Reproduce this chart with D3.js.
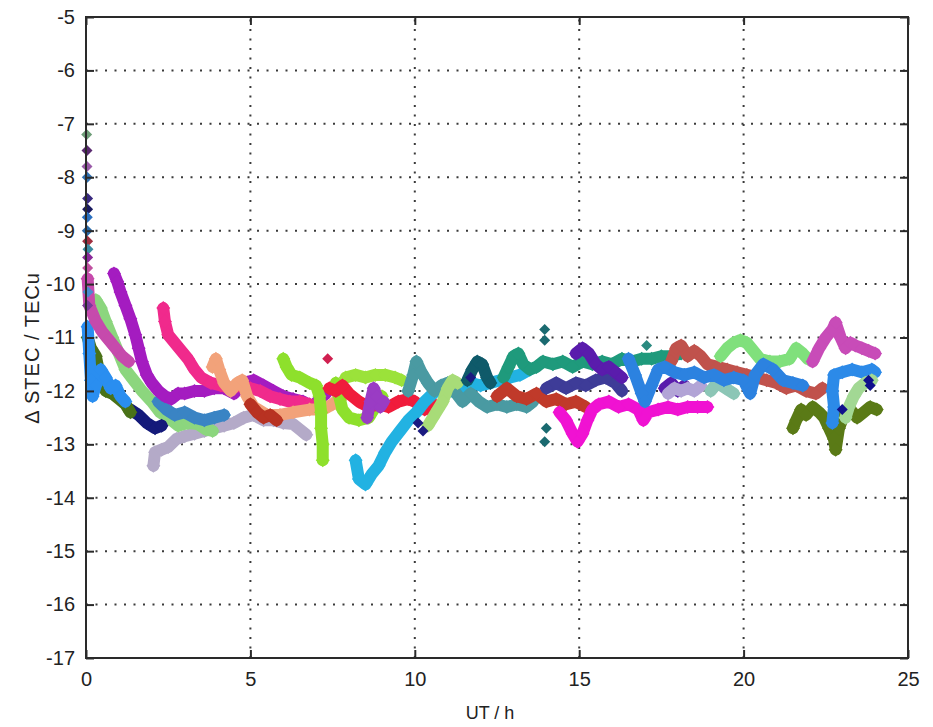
<!DOCTYPE html>
<html><head><meta charset="utf-8">
<script src="https://cdn.jsdelivr.net/npm/d3@7"></script>
<style>body{margin:0;background:#fff}svg{display:block}text{font-family:"Liberation Sans",Arial,sans-serif}</style>
</head><body><svg id="c" width="933" height="727"></svg>
<script>
const xTicks=[0,5,10,15,20,25];
const yTicks=[-17,-16,-15,-14,-13,-12,-11,-10,-9,-8,-7,-6,-5];
const xTitle="UT / h", yTitle="\u0394 STEC / TECu";

// tracks: [UT hour, dSTEC]
const trkPurple=[[0.85,-9.8],[0.95,-9.95],[1.05,-10.15],[1.2,-10.4],[1.35,-10.65],[1.5,-10.95],[1.6,-11.2],[1.7,-11.45],[1.85,-11.7],[2.0,-11.85],[2.2,-12.0],[2.4,-12.1],[2.6,-12.15],[2.8,-12.05],[3.0,-12.05],[3.3,-12.0],[3.6,-12.0],[3.9,-11.95],[4.2,-11.95],[4.5,-12.05],[4.8,-11.85],[5.1,-11.8],[5.4,-11.9],[5.7,-12.0],[6.0,-12.1],[6.3,-12.15],[6.6,-12.2],[6.9,-12.3],[7.1,-12.15],[7.3,-12.05]];
const trkLtGreen=[[0.2,-10.5],[0.3,-10.3],[0.45,-10.45],[0.6,-10.7],[0.8,-11.0],[1.0,-11.3],[1.2,-11.6],[1.45,-11.8],[1.7,-12.0],[2.0,-12.2],[2.25,-12.4],[2.5,-12.5],[2.8,-12.65],[3.1,-12.6],[3.4,-12.62],[3.65,-12.72],[3.85,-12.75]];
const trkOrchid=[[0.05,-9.9],[0.1,-10.4],[0.3,-10.7],[0.5,-10.9],[0.7,-11.05],[0.9,-11.2],[1.1,-11.35],[1.3,-11.45]];
const trkBlue=[[0.05,-10.8],[0.1,-11.3],[0.15,-11.8],[0.2,-12.1],[0.3,-11.9],[0.45,-11.6],[0.6,-11.75],[0.75,-11.95],[0.9,-11.9],[1.05,-12.1],[1.2,-12.2]];
const trkOlive=[[0.05,-11.0],[0.15,-11.2],[0.3,-11.35],[0.45,-11.8],[0.6,-12.0],[0.8,-12.05],[1.0,-12.15],[1.2,-12.25],[1.35,-12.4]];
const trkNavy=[[1.35,-12.35],[1.6,-12.45],[1.85,-12.6],[2.1,-12.7],[2.3,-12.65]];
const trkSteel=[[2.2,-12.2],[2.45,-12.35],[2.7,-12.45],[3.0,-12.4],[3.3,-12.5],[3.6,-12.55],[3.9,-12.5],[4.2,-12.45]];
const trkLav=[[2.05,-13.4],[2.1,-13.15],[2.3,-13.1],[2.5,-13.05],[2.75,-12.9],[3.0,-12.85],[3.3,-12.8],[3.6,-12.75],[3.9,-12.7],[4.2,-12.65],[4.5,-12.6],[4.8,-12.5],[5.1,-12.45],[5.4,-12.55],[5.7,-12.55],[6.0,-12.6],[6.3,-12.62],[6.5,-12.72],[6.7,-12.82]];
const trkHotPink=[[2.35,-10.45],[2.4,-10.7],[2.5,-10.95],[2.7,-11.1],[2.9,-11.25],[3.1,-11.4],[3.3,-11.6],[3.5,-11.75],[3.8,-11.85],[4.1,-11.9],[4.4,-11.95],[4.7,-11.9],[5.0,-11.95],[5.3,-12.0],[5.6,-12.1],[5.9,-12.15],[6.2,-12.2],[6.5,-12.2],[6.8,-12.25]];
const trkSalmon=[[3.85,-11.55],[3.95,-11.4],[4.05,-11.6],[4.2,-11.85],[4.4,-12.0],[4.6,-11.85],[4.75,-11.8],[4.9,-12.1],[5.1,-12.3],[5.5,-12.45],[5.9,-12.45],[6.3,-12.4],[6.8,-12.35],[7.2,-12.35],[7.5,-12.25],[7.8,-12.1]];
const trkBrick1=[[5.0,-12.25],[5.2,-12.4],[5.4,-12.5],[5.6,-12.45],[5.8,-12.55]];
const trkYG1=[[6.0,-11.4],[6.1,-11.55],[6.25,-11.7],[6.5,-11.75],[6.8,-11.85],[7.0,-11.9],[7.1,-12.1],[7.15,-12.4],[7.15,-12.7],[7.2,-13.0],[7.2,-13.3]];
const trkYG2=[[7.6,-11.85],[7.7,-12.1],[7.8,-12.35],[8.0,-12.5],[8.3,-12.55],[8.6,-12.5],[8.8,-12.3],[9.0,-12.1]];
const trkYG3=[[7.9,-11.75],[8.2,-11.7],[8.5,-11.75],[8.8,-11.7],[9.1,-11.7],[9.4,-11.75],[9.6,-11.8]];
const trkRed=[[7.4,-11.95],[7.6,-12.0],[7.8,-11.9],[8.0,-12.05],[8.3,-12.2],[8.6,-12.3],[8.9,-12.25],[9.2,-12.3],[9.5,-12.2],[9.8,-12.15],[10.0,-12.2],[10.3,-12.35],[10.5,-12.2]];
const trkViolet=[[8.55,-12.5],[8.65,-12.2],[8.75,-11.95],[8.85,-12.1],[8.95,-12.3],[9.05,-12.2]];
const trkCyan=[[8.2,-13.3],[8.3,-13.65],[8.5,-13.75],[8.7,-13.55],[8.9,-13.4],[9.1,-13.15],[9.3,-12.95],[9.55,-12.75],[9.8,-12.55],[10.05,-12.4],[10.3,-12.2],[10.55,-12.05],[10.8,-11.95],[11.1,-12.0],[11.4,-11.95],[11.7,-11.85],[12.0,-11.9],[12.3,-11.85],[12.6,-11.8],[12.9,-11.75],[13.2,-11.7],[13.5,-11.6]];
const trkTealGray=[[9.8,-12.0],[9.95,-11.7],[10.05,-11.45],[10.2,-11.65],[10.4,-11.85],[10.6,-12.0],[10.8,-11.9],[11.0,-11.85],[11.2,-12.0],[11.45,-12.2],[11.7,-12.05],[11.95,-12.2],[12.2,-12.3],[12.5,-12.25],[12.8,-12.3],[13.1,-12.25],[13.4,-12.3],[13.6,-12.2]];
const trkPaleYG=[[10.4,-12.65],[10.55,-12.5],[10.7,-12.35],[10.85,-12.2],[11.0,-11.95],[11.15,-11.8],[11.3,-11.85]];
const trkDkTeal=[[11.6,-11.8],[11.75,-11.6],[11.9,-11.45],[12.05,-11.5],[12.2,-11.75],[12.3,-11.85]];
const trkSea=[[12.7,-11.75],[12.85,-11.55],[13.0,-11.35],[13.15,-11.3],[13.3,-11.5],[13.5,-11.6],[13.7,-11.55],[13.9,-11.45],[14.2,-11.5],[14.5,-11.45],[14.8,-11.55],[15.1,-11.45],[15.4,-11.5],[15.7,-11.45],[16.0,-11.5],[16.3,-11.4],[16.6,-11.45],[16.9,-11.4],[17.2,-11.4],[17.5,-11.35],[17.8,-11.35],[18.1,-11.3]];
const trkBrick2=[[12.5,-12.1],[12.8,-11.95],[13.1,-12.1],[13.4,-12.15],[13.7,-12.05],[14.0,-12.2],[14.3,-12.15],[14.6,-12.25],[14.9,-12.2],[15.2,-12.3]];
const trkIndigo=[[14.0,-11.95],[14.3,-11.85],[14.6,-11.95],[14.9,-11.85],[15.2,-11.9],[15.5,-11.8],[15.8,-11.75],[16.1,-11.85],[16.3,-12.0]];
const trkViolet2=[[14.9,-11.3],[15.1,-11.2],[15.3,-11.3],[15.5,-11.5],[15.7,-11.6],[15.9,-11.55],[16.1,-11.65],[16.3,-11.75]];
const trkViolet3=[[17.6,-11.95],[17.8,-11.85],[18.0,-12.0],[18.2,-11.9]];
const trkMagenta=[[14.4,-12.4],[14.6,-12.55],[14.8,-12.8],[14.95,-12.95],[15.1,-12.8],[15.25,-12.55],[15.4,-12.35],[15.6,-12.25],[15.9,-12.2],[16.2,-12.3],[16.5,-12.25],[16.8,-12.35],[16.95,-12.55],[17.1,-12.4],[17.4,-12.35],[17.7,-12.3],[18.0,-12.35],[18.3,-12.3],[18.6,-12.3],[18.9,-12.3]];
const trkLav2=[[17.7,-12.05],[17.9,-11.95],[18.1,-12.0],[18.3,-11.95],[18.5,-12.0],[18.7,-11.9]];
const trkIndRed=[[17.8,-11.45],[17.95,-11.2],[18.1,-11.15],[18.3,-11.35],[18.5,-11.25],[18.7,-11.35],[18.9,-11.5],[19.2,-11.55],[19.5,-11.6],[19.8,-11.65],[20.1,-11.7],[20.4,-11.75],[20.7,-11.8],[21.0,-11.85],[21.3,-11.95],[21.6,-11.9],[21.9,-12.0],[22.2,-12.05],[22.4,-11.95]];
const trkSeafoam=[[19.0,-12.0],[19.2,-11.85],[19.45,-11.95],[19.7,-12.05]];
const trkLtGreen2=[[19.3,-11.35],[19.5,-11.2],[19.7,-11.1],[19.9,-11.05],[20.1,-11.1],[20.3,-11.25],[20.5,-11.4],[20.8,-11.45],[21.1,-11.45],[21.4,-11.4],[21.6,-11.2],[21.8,-11.3],[21.95,-11.4]];
const trkMedBlue=[[16.5,-11.4],[16.7,-11.7],[16.9,-12.05],[17.0,-12.2],[17.2,-11.9],[17.4,-11.6],[17.6,-11.55],[17.9,-11.65],[18.2,-11.7],[18.5,-11.65],[18.8,-11.75],[19.1,-11.7],[19.4,-11.8],[19.7,-11.75],[20.0,-11.8],[20.2,-12.05],[20.35,-11.7],[20.6,-11.5],[20.9,-11.6],[21.2,-11.8],[21.5,-11.85],[21.8,-11.9]];
const trkOlive2=[[21.5,-12.7],[21.6,-12.55],[21.75,-12.35],[21.9,-12.45],[22.1,-12.3],[22.3,-12.4],[22.45,-12.5],[22.6,-12.7],[22.75,-12.9],[22.8,-13.1],[22.9,-12.7],[23.05,-12.45],[23.25,-12.35],[23.45,-12.5],[23.65,-12.4],[23.85,-12.3],[24.05,-12.35]];
const trkOrchid2=[[22.1,-11.45],[22.3,-11.2],[22.5,-11.0],[22.7,-10.85],[22.8,-10.72],[22.95,-11.0],[23.1,-11.2],[23.25,-11.1],[23.4,-11.15],[23.6,-11.2],[23.8,-11.25],[24.0,-11.3]];
const trkMedBlue2=[[22.7,-12.6],[22.75,-12.3],[22.7,-12.0],[22.75,-11.7],[23.0,-11.65],[23.3,-11.6],[23.6,-11.65],[23.9,-11.6],[24.0,-11.65]];
const trkPale=[[23.1,-12.5],[23.2,-12.3],[23.35,-12.1],[23.5,-11.95],[23.7,-11.85],[23.9,-11.8]];

const tracks=[trkLav,trkLtGreen,trkSteel,trkNavy,trkOlive,trkBlue,trkOrchid,trkPurple,trkHotPink,trkSalmon,trkBrick1,trkYG1,trkYG2,trkYG3,trkRed,trkViolet,trkCyan,trkTealGray,trkPaleYG,trkDkTeal,trkSea,trkBrick2,trkIndigo,trkViolet2,trkViolet3,trkMagenta,trkLav2,trkIndRed,trkSeafoam,trkLtGreen2,trkMedBlue,trkOlive2,trkOrchid2,trkMedBlue2,trkPale];
const trackColors=["#b4aac8","#8cd67e","#3a84c4","#141a7a","#4a7218","#2a8ef0","#c64aac","#a41cc0","#f02a8c","#f2a27a","#b83222","#8ee02c","#8ee02c","#9be23a","#f01c3c","#9a3cc4","#22b2e2","#4a9aa2","#a8dc78","#0f5a6a","#1f9a7c","#c03a2a","#3e3c98","#5a1cac","#5a1cac","#f012d2","#b2a4d6","#c0524c","#8cc6b6","#80e07c","#2c82e0","#5a7a16","#c84cb8","#2c8ae8","#a2d894"];

// isolated samples
const spotH=[0.02,0.03,0.03,0.04,0.05,0.05,0.04,0.04,0.05,0.06,0.05,0.05,0.06,0.05,7.35,13.95,13.95,14.0,13.95,17.05,10.1,10.25,11.7,23.0,23.8,23.85];
const spotV=[-7.2,-7.5,-7.8,-8.0,-8.4,-8.6,-8.75,-9.0,-9.2,-9.35,-9.5,-9.7,-10.15,-10.4,-11.4,-10.85,-11.05,-12.7,-12.95,-11.15,-12.6,-12.75,-11.75,-12.35,-11.8,-11.9];
const spotColors=["#6e9e78","#5a2a70","#9a5aa8","#3070b0","#3a2a80","#1a1a60","#2a70c0","#2a6aa8","#a03040","#3a8aa0","#8a2a9a","#c050a0","#4a8ad0","#7a3a9a","#d02050","#1a6a70","#1a6a70","#1a6a70","#1a6a70","#2a8a80","#1a1a80","#1a1a80","#1a1a80","#10108c","#10108c","#10108c"];

const L=86,R=908,T=17,B=658;
const svg=d3.select("#c");
const x=d3.scaleLinear().domain([0,25]).range([L,R]);
const y=d3.scaleLinear().domain([-17,-5]).range([B,T]);

// grid
const grid=svg.append("g").attr("stroke","#3a3a3a").attr("stroke-width",2).attr("stroke-dasharray","2,7.5");
grid.selectAll(".gx").data(xTicks.filter(d=>d>0&&d<25)).join("line").attr("x1",d=>x(d)).attr("x2",d=>x(d)).attr("y1",B).attr("y2",T);
grid.selectAll(".gy").data(yTicks.filter(d=>d>-17&&d<-5)).join("line").attr("x1",L).attr("x2",R).attr("y1",d=>y(d)).attr("y2",d=>y(d));

// data
const line=d3.line().x(d=>x(d[0])).y(d=>y(d[1]));
const diamond="M0,-7L7,0L0,7L-7,0Z";
const gd=svg.append("g");
tracks.forEach((t,i)=>{
  const c=trackColors[i];
  gd.append("path").attr("d",line(t)).attr("fill","none").attr("stroke",c).attr("stroke-width",12).attr("stroke-linejoin","round").attr("stroke-linecap","round");
  gd.append("g").selectAll("path").data(t).join("path").attr("d",diamond).attr("transform",d=>`translate(${x(d[0])},${y(d[1])})`).attr("fill",c);
});
gd.append("g").selectAll("path").data(spotH.map((h,i)=>[h,spotV[i],spotColors[i]])).join("path")
  .attr("d","M0,-5.5L5.5,0L0,5.5L-5.5,0Z").attr("transform",d=>`translate(${x(d[0])},${y(d[1])})`).attr("fill",d=>d[2]);

// axes
const ink="#2a2a2a";
const fmt=d=>String(d);
const axL=d3.axisLeft(y).tickValues(yTicks).tickSize(-8).tickPadding(11).tickFormat(fmt);
const axR=d3.axisRight(y).tickValues(yTicks).tickSize(-8).tickFormat("");
const axB=d3.axisBottom(x).tickValues(xTicks).tickSize(-8).tickPadding(14).tickFormat(fmt);
const axT=d3.axisTop(x).tickValues(xTicks).tickSize(-8).tickFormat("");
[[axL,`translate(${L},0)`],[axR,`translate(${R},0)`],[axB,`translate(0,${B})`],[axT,`translate(0,${T})`]].forEach(([a,tr])=>{
  const g=svg.append("g").attr("transform",tr).call(a);
  g.select(".domain").remove();
  g.selectAll("line").attr("stroke",ink).attr("stroke-width",2);
  g.selectAll("text").attr("font-size",20).attr("fill","#222").attr("font-family","Liberation Sans, Arial, sans-serif");
});
svg.append("rect").attr("x",L).attr("y",T).attr("width",R-L).attr("height",B-T).attr("fill","none").attr("stroke",ink).attr("stroke-width",2);

svg.append("text").attr("x",490).attr("y",719).attr("text-anchor","middle").attr("font-size",18).attr("fill","#222").text(xTitle);
svg.append("text").attr("transform","translate(39,348) rotate(-90)").attr("text-anchor","middle").attr("font-size",20).attr("letter-spacing",1).attr("fill","#222").text(yTitle);
</script></body></html>
